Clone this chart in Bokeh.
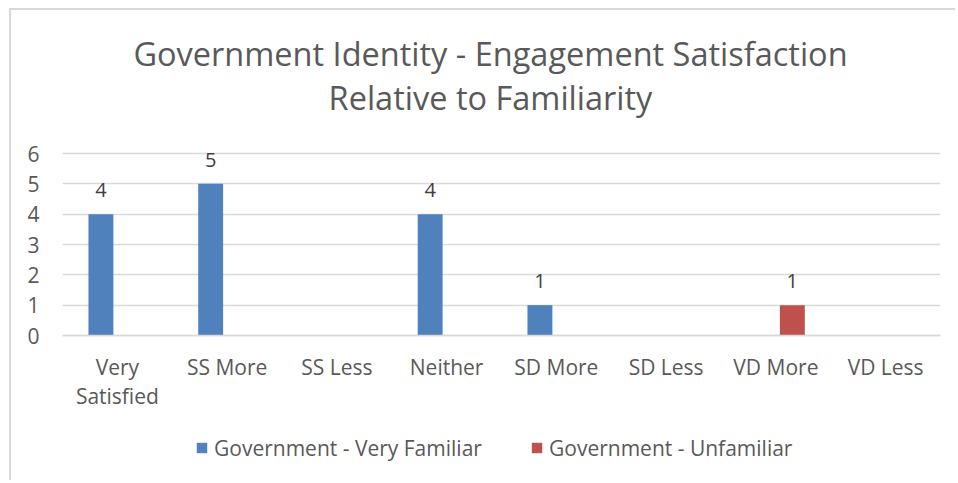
from bokeh.plotting import figure
from bokeh.models import (ColumnDataSource, FixedTicker, Label, LabelSet,
                          Legend, LegendItem)
from bokeh.core.properties import value
from bokeh.transform import dodge
from bokeh.embed import file_html
from bokeh.resources import INLINE

# --- data ---------------------------------------------------------------
categories = ["Very\nSatisfied", "SS More", "SS Less", "Neither",
              "SD More", "SD Less", "VD More", "VD Less"]
very_familiar = [4, 5, 0, 4, 1, 0, 0, 0]
unfamiliar = [0, 0, 0, 0, 0, 0, 1, 0]
series_names = ["Government - Very Familiar", "Government - Unfamiliar"]
y_ticks = [0, 1, 2, 3, 4, 5, 6]
title_lines = ["Government Identity - Engagement Satisfaction",
               "Relative to Familiarity"]

# --- style --------------------------------------------------------------
FONT = "Open Sans"
BLUE = "#4f81bd"
RED = "#c0504d"
TEXT = "#595959"
LABEL = "#404040"
GRID = "#d9d9d9"

# --- layout (pixels) ----------------------------------------------------
W, H = 946, 472            # canvas size
PLOT_TOP, PLOT_BOTTOM = 143, 325   # where the value axis runs from max to 0
unit_px = (PLOT_BOTTOM - PLOT_TOP) / max(y_ticks)
y_lo = -(H - PLOT_BOTTOM) / unit_px
y_hi = max(y_ticks) + PLOT_TOP / unit_px

src = ColumnDataSource(dict(cat=categories, vf=very_familiar, uf=unfamiliar))

p = figure(
    x_range=categories, y_range=(y_lo, y_hi),
    width=W, height=H,
    output_backend="svg", toolbar_location=None,
    min_border_left=51, min_border_right=17,
    min_border_top=0, min_border_bottom=0,
)
p.styles = {"margin-left": "9px", "margin-top": "8px",
            "border-left": "2px solid #d9d9d9",
            "border-top": "2px solid #d9d9d9"}
p.outline_line_color = None
p.background_fill_color = "white"
p.border_fill_color = "white"

# bars
offset = 0.15
bar_w = 0.227
r_vf = p.vbar(x=dodge("cat", -offset, range=p.x_range), top="vf", width=bar_w,
              source=src, fill_color=BLUE, line_color=None)
r_uf = p.vbar(x=dodge("cat", offset, range=p.x_range), top="uf", width=bar_w,
              source=src, fill_color=RED, line_color=None)

# value labels for non-zero bars
def label_source(values):
    cats = [c for c, v in zip(categories, values) if v]
    vals = [v for v in values if v]
    return ColumnDataSource(dict(cat=cats, v=vals, t=[str(v) for v in vals]))

for vals, off in ((very_familiar, -offset), (unfamiliar, offset)):
    ls = LabelSet(x=dodge("cat", off, range=p.x_range), y="v", text="t",
                  source=label_source(vals), text_align="center",
                  text_baseline="alphabetic", y_offset=17,
                  text_font=value(FONT), text_font_size="20px",
                  text_color=LABEL)
    p.add_layout(ls)

# axes
p.yaxis.ticker = FixedTicker(ticks=y_ticks)
for ax in (p.xaxis[0], p.yaxis[0]):
    ax.major_tick_line_color = None
    ax.minor_tick_line_color = None
    ax.major_label_text_font = FONT
    ax.major_label_text_font_size = "21px"
    ax.major_label_text_color = TEXT
p.yaxis.axis_line_color = None
p.yaxis.major_label_standoff = 17
p.xaxis.fixed_location = 0
p.xaxis.axis_line_color = GRID
p.xaxis.axis_line_width = 1.5
p.xaxis.major_label_standoff = 11
p.xaxis.major_label_text_line_height = 1.05

p.xgrid.grid_line_color = None
p.ygrid.grid_line_color = GRID
p.ygrid.grid_line_width = 1.5

# title, two centred lines
for txt, y in zip(title_lines, (H - 43, H - 87)):
    p.add_layout(Label(x=428, y=y, x_units="screen", y_units="screen",
                       text=txt, text_align="center",
                       text_baseline="alphabetic", text_font=FONT,
                       text_font_size="32.5px", text_color=TEXT))

# legend: one entry per series, side by side under the categories
for name, rend, xpos in ((series_names[0], r_vf, 133),
                         (series_names[1], r_uf, 468)):
    lg = Legend(items=[LegendItem(label=name, renderers=[rend])],
                location=(xpos, 20.5), orientation="horizontal",
                border_line_color=None, background_fill_alpha=0,
                padding=0, margin=0, glyph_width=13, glyph_height=13,
                label_standoff=6, label_height=20,
                label_text_font=FONT, label_text_font_size="21px",
                label_text_color=TEXT)
    p.add_layout(lg)

open("out.html", "w").write(file_html(p, INLINE))
